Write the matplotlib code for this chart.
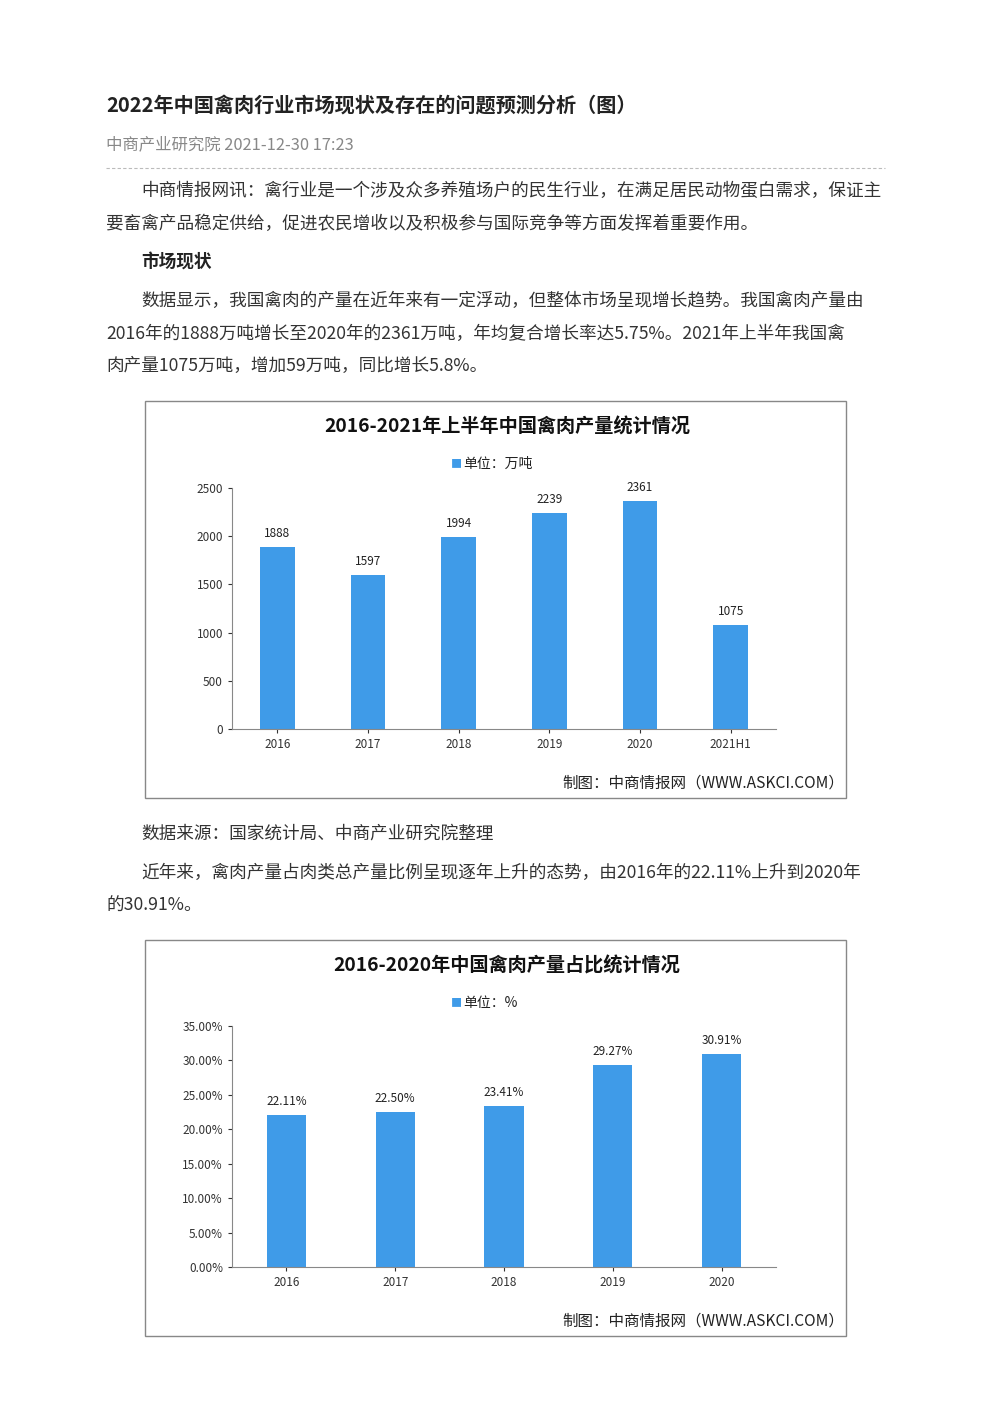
import matplotlib
matplotlib.use("Agg")
import matplotlib.pyplot as plt
from matplotlib.patches import Rectangle

plt.rcParams['font.family'] = ['Noto Sans CJK SC', 'DejaVu Sans']

years1 = ['2016', '2017', '2018', '2019', '2020', '2021H1']
prod = [1888, 1597, 1994, 2239, 2361, 1075]
years2 = ['2016', '2017', '2018', '2019', '2020']
share = [22.11, 22.50, 23.41, 29.27, 30.91]

W, H = 992, 1403
fig = plt.figure(figsize=(W/100, H/100), dpi=100)
fig.patch.set_facecolor('white')

def T(x, y, s, **kw):
    fig.text(x/W, 1 - y/H, s, va='center', **kw)

T(106, 105, '2022年中国禽肉行业市场现状及存在的问题预测分析（图）', fontsize=14.5, fontweight='bold', color='#222222')
T(106, 145, '中商产业研究院 2021-12-30 17:23', fontsize=11.8, color='#888888')
fig.add_artist(plt.Line2D([106/W, 885/W], [1-168/H]*2, color='#bbbbbb', ls=(0, (3, 2)), lw=0.8))
body = '#333333'
fs = 12.7
T(141, 191, '中商情报网讯：禽行业是一个涉及众多养殖场户的民生行业，在满足居民动物蛋白需求，保证主', fontsize=fs, color=body)
T(106, 224, '要畜禽产品稳定供给，促进农民增收以及积极参与国际竞争等方面发挥着重要作用。', fontsize=fs, color=body)
T(141, 262, '市场现状', fontsize=fs, fontweight='bold', color='#222222')
T(141, 301, '数据显示，我国禽肉的产量在近年来有一定浮动，但整体市场呈现增长趋势。我国禽肉产量由', fontsize=fs, color=body)
T(106, 334, '2016年的1888万吨增长至2020年的2361万吨，年均复合增长率达5.75%。2021年上半年我国禽', fontsize=fs, color=body)
T(106, 366, '肉产量1075万吨，增加59万吨，同比增长5.8%。', fontsize=fs, color=body)
T(141, 834, '数据来源：国家统计局、中商产业研究院整理', fontsize=fs, color=body)
T(141, 873, '近年来，禽肉产量占肉类总产量比例呈现逐年上升的态势，由2016年的22.11%上升到2020年', fontsize=fs, color=body)
T(106, 906, '的30.91%。', fontsize=fs, color=body)

blue = '#3f9be8'

def box(y0, y1):
    fig.add_artist(Rectangle((145/W, 1 - y1/H), (846-145)/W, (y1-y0)/H, fill=False, ec='#888888', lw=1))

def chart(ytop, ybot, cats, vals, ymax, step, title, unit, fmt, lblfmt, width, boxy):
    box(*boxy)
    ax = fig.add_axes([232/W, 1 - ybot/H, (776-232)/W, (ybot-ytop)/H])
    x = range(len(cats))
    ax.bar(x, vals, width=width, color=blue)
    ax.set_ylim(0, ymax)
    ax.set_xlim(-0.5, len(cats) - 0.5)
    ax.set_yticks([i*step for i in range(int(ymax/step)+1)])
    ax.set_yticklabels([fmt(i*step) for i in range(int(ymax/step)+1)], fontsize=8.5)
    ax.set_xticks(list(x))
    ax.set_xticklabels(cats, fontsize=8.5)
    for s in ['top', 'right']:
        ax.spines[s].set_visible(False)
    ax.spines['left'].set_color('#888888')
    ax.spines['bottom'].set_color('#888888')
    ax.tick_params(length=3, colors='#333333')
    for xi, v in zip(x, vals):
        ax.text(xi, v + ymax*0.03, lblfmt(v), ha='center', va='bottom', fontsize=8.5, color='#222222')
    T(507, boxy[0] + 26, title, fontsize=13.8, fontweight='bold', ha='center', color='#111111')
    T(462, boxy[0] + 63, '■', fontsize=8, color=blue, ha='right')
    T(463, boxy[0] + 63, unit, fontsize=10, ha='left', color='#222222')
    T(562, boxy[1] - 15, '制图：中商情报网（WWW.ASKCI.COM）', fontsize=11.2, color='#222222')
    return ax

chart(488, 729, years1, prod, 2500, 500, '2016-2021年上半年中国禽肉产量统计情况', '单位：万吨',
      lambda v: f'{v:g}', lambda v: f'{v}', 0.38, (401, 798))
chart(1026, 1267, years2, share, 35, 5, '2016-2020年中国禽肉产量占比统计情况', '单位：%',
      lambda v: f'{v:.2f}%', lambda v: f'{v:.2f}%', 0.36, (940, 1336))

fig.savefig('out.png', dpi=100)
